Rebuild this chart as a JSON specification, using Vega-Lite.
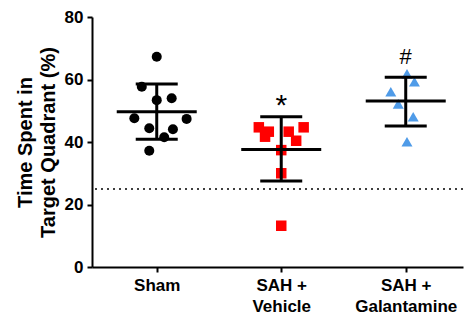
{
  "$schema": "https://vega.github.io/schema/vega-lite/v6.json",
  "autosize": "none",
  "width": 371,
  "height": 250,
  "padding": {"left": 92, "top": 17, "right": 2, "bottom": 53},
  "background": "white",
  "config": {
    "view": {"stroke": null},
    "font": "Liberation Sans",
    "axis": {
      "grid": false,
      "domainColor": "black",
      "domainWidth": 2,
      "tickColor": "black",
      "tickWidth": 2,
      "tickSize": 5,
      "labelColor": "black",
      "labelFont": "Liberation Sans",
      "labelFontWeight": "bold",
      "labelFontSize": 17,
      "titleFont": "Liberation Sans",
      "titleFontWeight": "bold",
      "titleFontSize": 20,
      "titleColor": "black"
    }
  },
  "datasets": {
    "points": [
      {"group": "Sham", "x": 1.00, "value": 67.3},
      {"group": "Sham", "x": 0.88, "value": 57.7},
      {"group": "Sham", "x": 1.00, "value": 53.4},
      {"group": "Sham", "x": 1.12, "value": 54.0},
      {"group": "Sham", "x": 0.82, "value": 47.6},
      {"group": "Sham", "x": 1.24, "value": 47.4},
      {"group": "Sham", "x": 0.94, "value": 44.4},
      {"group": "Sham", "x": 1.13, "value": 44.1},
      {"group": "Sham", "x": 1.06, "value": 41.5},
      {"group": "Sham", "x": 0.94, "value": 37.2},
      {"group": "Vehicle", "x": 1.82, "value": 44.7},
      {"group": "Vehicle", "x": 1.90, "value": 43.3},
      {"group": "Vehicle", "x": 1.87, "value": 41.7},
      {"group": "Vehicle", "x": 2.06, "value": 43.3},
      {"group": "Vehicle", "x": 2.18, "value": 44.7},
      {"group": "Vehicle", "x": 2.12, "value": 40.4},
      {"group": "Vehicle", "x": 2.00, "value": 37.4},
      {"group": "Vehicle", "x": 2.00, "value": 30.0},
      {"group": "Vehicle", "x": 2.00, "value": 13.2},
      {"group": "Galantamine", "x": 3.01, "value": 61.8},
      {"group": "Galantamine", "x": 3.07, "value": 59.3},
      {"group": "Galantamine", "x": 2.88, "value": 56.1},
      {"group": "Galantamine", "x": 2.94, "value": 52.2},
      {"group": "Galantamine", "x": 3.06, "value": 48.1},
      {"group": "Galantamine", "x": 3.01, "value": 40.1}
    ],
    "summary": [
      {"group": "Sham", "x": 1, "mean": 49.7, "lo": 40.9, "hi": 58.6},
      {"group": "Vehicle", "x": 2, "mean": 37.6, "lo": 27.5, "hi": 48.1},
      {"group": "Galantamine", "x": 3, "mean": 53.1, "lo": 45.1, "hi": 60.7}
    ],
    "marks": [
      {"x": 2, "y": 51.5, "label": "*", "size": 30},
      {"x": 3, "y": 67.3, "label": "#", "size": 22}
    ],
    "chance": [{"y": 25}]
  },
  "encoding": {
    "x": {
      "type": "quantitative",
      "scale": {"domain": [0.48, 3.46], "nice": false, "zero": false},
      "axis": {
        "values": [1, 2, 3],
        "title": null,
        "labelExpr": "datum.value == 1 ? 'Sham' : datum.value == 2 ? ['SAH +', 'Vehicle'] : ['SAH +', 'Galantamine']",
        "labelPadding": 5,
        "labelLineHeight": 21,
        "labelBaseline": "top"
      }
    },
    "y": {
      "type": "quantitative",
      "scale": {"domain": [0, 80], "nice": false},
      "axis": {
        "values": [0, 20, 40, 60, 80],
        "title": ["Time Spent in", "Target Quadrant (%)"],
        "titlePadding": 6,
        "titleLineHeight": 23,
        "labelPadding": 4
      }
    }
  },
  "layer": [
    {
      "data": {"name": "chance"},
      "mark": {"type": "rule", "color": "black", "strokeDash": [2, 4], "strokeWidth": 1.5},
      "encoding": {"x": null, "y": {"field": "y", "type": "quantitative"}}
    },
    {
      "data": {"name": "points"},
      "mark": {"type": "point", "filled": true, "opacity": 1, "strokeWidth": 0},
      "encoding": {
        "x": {"field": "x"},
        "y": {"field": "value"},
        "color": {"field": "group", "type": "nominal", "scale": {"domain": ["Sham", "Vehicle", "Galantamine"], "range": ["black", "#ff0000", "#4f9be8"]}, "legend": null},
        "shape": {"field": "group", "type": "nominal", "scale": {"domain": ["Sham", "Vehicle", "Galantamine"], "range": ["circle", "square", "triangle-up"]}, "legend": null},
        "size": {"field": "group", "type": "nominal", "scale": {"domain": ["Sham", "Vehicle", "Galantamine"], "range": [100, 121, 90]}, "legend": null}
      }
    },
    {
      "data": {"name": "summary"},
      "mark": {"type": "rule", "color": "black", "strokeWidth": 3},
      "encoding": {"x": {"field": "x"}, "y": {"field": "lo"}, "y2": {"field": "hi"}}
    },
    {
      "data": {"name": "summary"},
      "mark": {"type": "tick", "orient": "horizontal", "color": "black", "size": 80, "thickness": 3, "opacity": 1},
      "encoding": {"x": {"field": "x"}, "y": {"field": "mean"}}
    },
    {
      "data": {"name": "summary"},
      "mark": {"type": "tick", "orient": "horizontal", "color": "black", "size": 42, "thickness": 3, "opacity": 1},
      "encoding": {"x": {"field": "x"}, "y": {"field": "lo"}}
    },
    {
      "data": {"name": "summary"},
      "mark": {"type": "tick", "orient": "horizontal", "color": "black", "size": 42, "thickness": 3, "opacity": 1},
      "encoding": {"x": {"field": "x"}, "y": {"field": "hi"}}
    },
    {
      "data": {"name": "marks"},
      "mark": {"type": "text", "color": "black", "font": "Liberation Sans", "baseline": "middle", "align": "center"},
      "encoding": {"x": {"field": "x"}, "y": {"field": "y"}, "text": {"field": "label"}, "size": {"field": "size", "type": "quantitative", "scale": null}}
    }
  ]
}
